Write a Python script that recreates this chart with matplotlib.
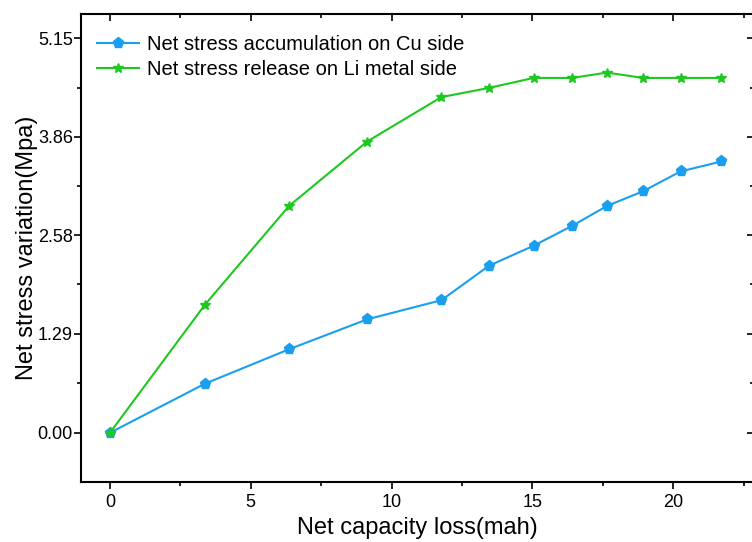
import matplotlib
matplotlib.use("Agg")
import matplotlib.pyplot as plt
from matplotlib.ticker import MultipleLocator, FixedLocator

plt.rcParams['font.family'] = ['Liberation Sans', 'DejaVu Sans']

# capacity loss (mah)
capacity = [0, 3.37, 6.36, 9.13, 11.77, 13.46, 15.04, 16.41, 17.65, 18.92, 20.26, 21.71]
# Net stress accumulation on Cu side
cu_stress = [0.00, 0.64, 1.09, 1.48, 1.73, 2.18, 2.44, 2.70, 2.96, 3.15, 3.41, 3.54]
# Net stress release on Li metal side
li_stress = [0.00, 1.67, 2.96, 3.80, 4.38, 4.50, 4.63, 4.63, 4.70, 4.63, 4.63, 4.63]

y_ticks = [0.00, 1.29, 2.58, 3.86, 5.15]

fig = plt.figure(figsize=(7.52, 5.42), dpi=100)
ax = fig.add_axes([0.108, 0.111, 0.894, 0.864])

ax.plot(capacity, cu_stress, color='#1a9ff0', marker='p', markersize=8,
        linewidth=1.5, label='Net stress accumulation on Cu side')
ax.plot(capacity, li_stress, color='#1ec81e', marker='*', markersize=7.5,
        linewidth=1.5, label='Net stress release on Li metal side')

ax.set_xlim(-1.02, 22.85)
ax.set_ylim(-0.64, 5.47)
ax.xaxis.set_major_locator(MultipleLocator(5))
ax.xaxis.set_minor_locator(MultipleLocator(2.5))
ax.yaxis.set_major_locator(FixedLocator(y_ticks))
ax.yaxis.set_minor_locator(FixedLocator([0.645, 1.935, 3.22, 4.505]))
ax.set_yticklabels(['%.2f' % t for t in y_ticks])

ax.tick_params(which='both', direction='out', labelsize=13, width=1.2)
ax.tick_params(which='major', length=5)
ax.tick_params(which='minor', length=3)
ax.tick_params(which='both', top=True, right=True)
ax.tick_params(axis='x', which='both', pad=4)
ax.tick_params(axis='y', which='both', pad=1)
for spine in ax.spines.values():
    spine.set_linewidth(1.5)

# top and right ticks point inward
for t in ax.xaxis.get_major_ticks() + ax.xaxis.get_minor_ticks():
    t.tick2line.set_marker(matplotlib.lines.TICKDOWN)
for t in ax.yaxis.get_major_ticks() + ax.yaxis.get_minor_ticks():
    t.tick2line.set_marker(matplotlib.lines.TICKLEFT)

ax.set_xlabel('Net capacity loss(mah)', fontsize=17, labelpad=4)
ax.set_ylabel('Net stress variation(Mpa)', fontsize=17, labelpad=0)

ax.legend(loc='upper left', frameon=False, fontsize=14.5, handlelength=2.1,
          borderaxespad=0.2, labelspacing=0.3, handletextpad=0.4,
          bbox_to_anchor=(0.005, 0.98))

fig.savefig('out.png', dpi=100)
